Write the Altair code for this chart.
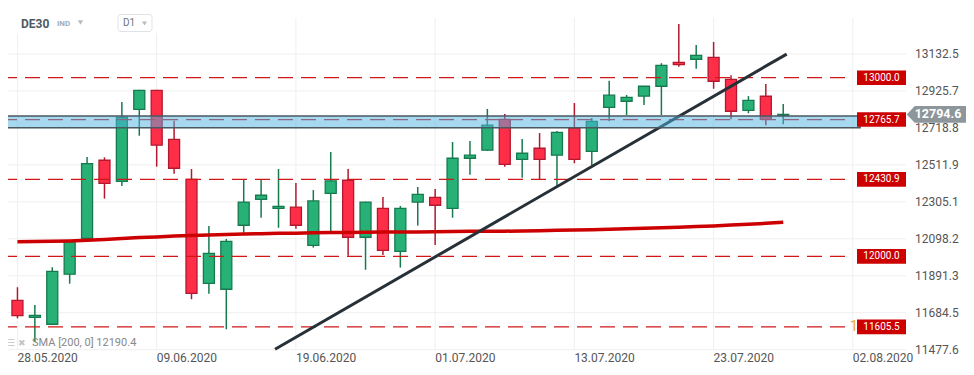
import altair as alt
import pandas as pd

# ---------------- data ----------------
DATES = ["28.05", "29.05", "01.06", "02.06", "03.06", "04.06", "05.06", "08.06", "09.06",
         "10.06", "11.06", "12.06", "15.06", "16.06", "17.06", "18.06", "19.06", "22.06",
         "23.06", "24.06", "25.06", "26.06", "29.06", "30.06", "01.07", "02.07", "03.07",
         "06.07", "07.07", "08.07", "09.07", "10.07", "13.07", "14.07", "15.07", "16.07",
         "17.07", "20.07", "21.07", "22.07", "23.07", "24.07", "27.07", "28.07", "29.07"]
OPEN = [11754, 11659, 11620, 11900, 12101, 12538, 12420, 12823, 12929, 12655, 12431, 11849,
        11816, 12174, 12319, 12269, 12275, 12062, 12353, 12426, 12107, 12269, 12028, 12304,
        12330, 12269, 12549, 12594, 12767, 12543, 12605, 12566, 12718, 12588, 12834, 12868,
        12897, 12952, 13086, 13103, 13114, 12991, 12817, 12896, 12790]
HIGH = [11827, 11728, 11939, 12089, 12556, 12554, 12864, 12932, 12932, 12759, 12489, 12170,
        12097, 12433, 12433, 12489, 12411, 12371, 12584, 12489, 12306, 12332, 12282, 12388,
        12377, 12640, 12646, 12825, 12797, 12657, 12690, 12702, 12858, 12774, 12983, 12903,
        12953, 13081, 13300, 13183, 13200, 13013, 12897, 12964, 12853]
LOW = [11653, 11522, 11615, 11847, 12095, 12323, 12394, 12675, 12502, 12463, 11760, 11791,
       11592, 12132, 12216, 12160, 12155, 12049, 12138, 12004, 11925, 12008, 11937, 12172,
       12064, 12216, 12457, 12590, 12502, 12440, 12429, 12395, 12521, 12510, 12756, 12791,
       12847, 12791, 13061, 13050, 12938, 12767, 12801, 12734, 12739]
CLOSE = [11668, 11670, 11916, 12082, 12519, 12409, 12778, 12929, 12622, 12493, 11793, 12017,
         12084, 12304, 12342, 12280, 12174, 12310, 12422, 12107, 12304, 12034, 12269, 12347,
         12286, 12549, 12566, 12734, 12515, 12577, 12543, 12694, 12543, 12756, 12902, 12890,
         12952, 13069, 13073, 13125, 12980, 12812, 12873, 12767, 12794.6]
SMA200 = [12082, 12083, 12084, 12086, 12090, 12095, 12100, 12105, 12109, 12114, 12117, 12119,
          12122, 12125, 12127, 12129, 12130, 12132, 12133, 12134, 12135, 12136, 12137, 12137,
          12138, 12139, 12140, 12140, 12141, 12142, 12144, 12146, 12147, 12149, 12152, 12155,
          12157, 12160, 12163, 12167, 12170, 12175, 12180, 12185, 12190.4]

LEVELS = [13000.0, 12765.7, 12430.9, 12000.0, 11605.5]
BAND = [12720.0, 12785.5]
TREND_IDX = [14.8, 44.2]
TREND_VAL = [11480, 13132]
LAST_PRICE = 12794.6

Y_TICKS = [11477.6, 11684.5, 11891.3, 12098.2, 12305.1, 12511.9, 12718.8, 12925.7, 13132.5]
X_TICK_IDX = [0, 8, 16, 24, 32, 40, 48]
X_TICK_LABELS = ["28.05.2020", "09.06.2020", "19.06.2020", "01.07.2020",
                 "13.07.2020", "23.07.2020", "02.08.2020"]

# ---------------- styles ----------------
GREEN, GREEN_DARK = "#27b177", "#177a4f"
RED, RED_DARK = "#ff2e48", "#b3182f"
FONT = "Roboto"

candles = pd.DataFrame({"i": list(range(len(OPEN))), "date": DATES, "open": OPEN,
                        "high": HIGH, "low": LOW, "close": CLOSE, "sma": SMA200})
levels = pd.DataFrame({"level": LEVELS})
band = pd.DataFrame({"lo": [BAND[0]], "hi": [BAND[1]]})
trend = pd.DataFrame({"i": TREND_IDX, "v": TREND_VAL})
last = pd.DataFrame({"p": [LAST_PRICE]})
xticks = pd.DataFrame({"i": X_TICK_IDX, "lab": X_TICK_LABELS})
yticks = pd.DataFrame({"v": Y_TICKS})

xs = alt.Scale(domain=[-0.256, 50.767], nice=False, zero=False)
ys = alt.Scale(domain=[11475.9, 13334.0], nice=False, zero=False)

X = lambda f: alt.X(f, scale=xs, axis=None)
Y = lambda f: alt.Y(f, scale=ys, axis=None)

# grid + tick labels (drawn from the tick arrays through the scales)
vgrid = alt.Chart(xticks).mark_rule(color="#efefef", strokeWidth=1).encode(
    x=X("i:Q"), y=alt.value(0), y2=alt.value(332))
hgrid = alt.Chart(yticks).mark_rule(color="#efefef", strokeWidth=1).encode(
    y=Y("v:Q"), x=alt.value(0), x2=alt.value(898))
xlabels = alt.Chart(xticks).mark_text(font=FONT, fontSize=12, color="#555555",
                                      align="left", baseline="middle").encode(
    x=X("i:Q"), y=alt.value(340), text="lab:N")
ylabels = alt.Chart(yticks).mark_text(font=FONT, fontSize=12, color="#555555",
                                      align="left", baseline="middle").encode(
    y=Y("v:Q"), x=alt.value(907), text=alt.Text("v:Q", format=".1f"))

up = "datum.close >= datum.open"

wicks = alt.Chart(candles).mark_rule(strokeWidth=1.5).encode(
    x=X("i:Q"), y=Y("low:Q"), y2="high:Q",
    color=alt.condition(up, alt.value(GREEN_DARK), alt.value(RED_DARK)),
)
bodies = alt.Chart(candles).mark_bar(width=11, strokeWidth=1.3).encode(
    x=X("i:Q"), y=Y("open:Q"), y2="close:Q",
    fill=alt.condition(up, alt.value(GREEN), alt.value(RED)),
    stroke=alt.condition(up, alt.value(GREEN_DARK), alt.value(RED_DARK)),
)
level_lines = alt.Chart(levels).mark_rule(strokeDash=[15, 8], strokeWidth=1.3,
                                          color="#d01818").encode(
    y=Y("level:Q"), x=alt.value(-6), x2=alt.value(845))
sma = alt.Chart(candles).mark_line(color="#cc0000", strokeWidth=3.5).encode(
    x=X("i:Q"), y=Y("sma:Q"))
trend_line = alt.Chart(trend).mark_line(color="#263036", strokeWidth=3).encode(
    x=X("i:Q"), y=Y("v:Q"))
band_rect = alt.Chart(band).mark_rect(fill="#4db3e1", fillOpacity=0.5, stroke="#4a5861",
                                      strokeWidth=1.5).encode(
    y=Y("hi:Q"), y2="lo:Q", x=alt.value(-6), x2=alt.value(852))

orange_one = alt.Chart(pd.DataFrame({"t": ["1"], "v": [LEVELS[-1]]})).mark_text(
    color="#f5a623", fontSize=14, font=FONT, align="left", baseline="middle").encode(
    y=Y("v:Q"), x=alt.value(842), text="t:N")

BOX = "M-1,-0.298L1,-0.298L1,0.298L-1,0.298Z"
level_boxes = alt.Chart(levels).mark_point(shape=BOX, size=2401, filled=True,
                                           color="#cc0000", opacity=1).encode(
    y=Y("level:Q"), x=alt.value(873.5))
level_text = alt.Chart(levels).mark_text(color="white", fontSize=10, font=FONT,
                                         align="center", baseline="middle").encode(
    y=Y("level:Q"), x=alt.value(873.5), text=alt.Text("level:Q", format=".1f"))

TAG = "M-1,0L-0.73,-0.282L1,-0.282L1,0.282L-0.73,0.282Z"
tag = alt.Chart(last).mark_point(shape=TAG, size=3516, filled=True, color="#8c969b",
                                 opacity=1).encode(
    y=Y("p:Q"), x=alt.value(928.4))
tag_text = alt.Chart(last).mark_text(color="white", fontSize=12.5, fontWeight="bold",
                                     font=FONT, align="center", baseline="middle").encode(
    y=Y("p:Q"), x=alt.value(930), text=alt.Text("p:Q", format=".1f"))

# header
one = pd.DataFrame({"a": [0]})
hdr_bg = alt.Chart(one).mark_rect(color="white").encode(
    x=alt.value(-8), x2=alt.value(282), y=alt.value(-10), y2=alt.value(15))
d1_box = alt.Chart(one).mark_rect(
    fill="white", stroke="#dfe3e6", strokeWidth=1, cornerRadius=3).encode(
    x=alt.value(110), x2=alt.value(144), y=alt.value(-3.5), y2=alt.value(13.5))
title = alt.Chart(pd.DataFrame({"t": ["DE30"]})).mark_text(
    font=FONT, fontSize=12, fontWeight="bold", color="#4e5a64", align="left",
    baseline="middle").encode(x=alt.value(13), y=alt.value(5.5), text="t:N")
ind = alt.Chart(pd.DataFrame({"t": ["IND"]})).mark_text(
    font=FONT, fontSize=8, fontWeight="bold", color="#a3adb5", align="left",
    baseline="middle").encode(x=alt.value(49), y=alt.value(6), text="t:N")
d1 = alt.Chart(pd.DataFrame({"t": ["D1"]})).mark_text(
    font=FONT, fontSize=10, color="#6b757c", align="left",
    baseline="middle").encode(x=alt.value(115), y=alt.value(5), text="t:N")
tri1 = alt.Chart(one).mark_point(
    shape="triangle-down", size=28, filled=True, color="#b4bcc2", opacity=1).encode(
    x=alt.value(72.5), y=alt.value(4.5))
tri2 = alt.Chart(one).mark_point(
    shape="triangle-down", size=24, filled=True, color="#b4bcc2", opacity=1).encode(
    x=alt.value(136.5), y=alt.value(5.5))

sma_icons = alt.Chart(pd.DataFrame({"t": ["☰ ✖"]})).mark_text(
    font="DejaVu Sans", fontSize=9, color="#c4c4c4", align="left",
    baseline="middle").encode(x=alt.value(-1), y=alt.value(324.5), text="t:N")
sma_label = alt.Chart(pd.DataFrame({"t": ["SMA  [200,  0]  12190.4"]})).mark_text(
    font=FONT, fontSize=11, color="#888888", align="left",
    baseline="middle").encode(x=alt.value(24), y=alt.value(324.5), text="t:N")

chart = alt.layer(
    vgrid, hgrid, xlabels, ylabels, hdr_bg,
    wicks, bodies, level_lines, sma, trend_line, band_rect, orange_one,
    level_boxes, level_text, tag, tag_text, d1_box, title, ind, d1, tri1, tri2,
    sma_icons, sma_label,
).properties(
    width=898, height=332,
    padding={"left": 0, "top": 10, "right": 60, "bottom": 17},
    autosize=alt.AutoSizeParams(type="none"),
    background="white",
).configure_view(stroke=None)

chart.save("out.html", embed_options={"renderer": "svg", "actions": False})
